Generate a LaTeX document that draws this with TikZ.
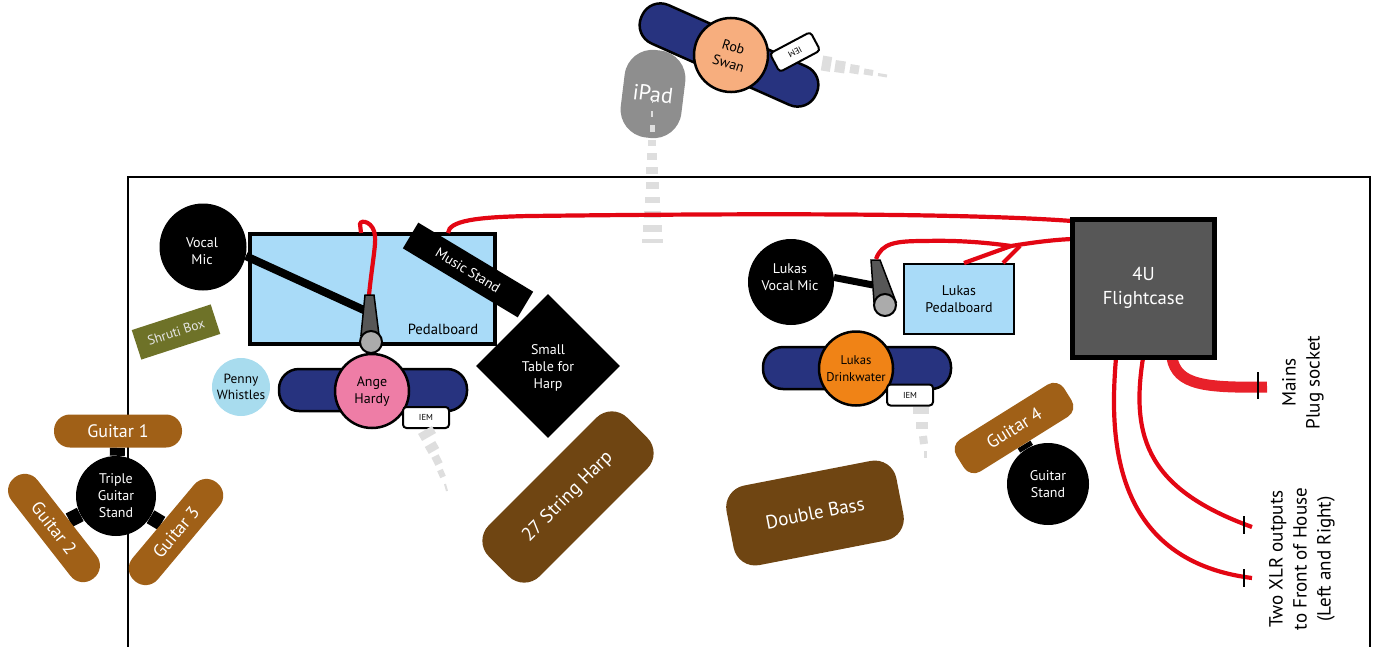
\documentclass[tikz,border=0pt]{standalone}
\usepackage{fontspec}
\setmainfont{PT Sans}
\usetikzlibrary{shapes.geometric, backgrounds}
\definecolor{PedalBlue}{HTML}{A9DBF8}
\definecolor{WhistleBlue}{HTML}{A8DCEE}
\definecolor{BodyBlue}{HTML}{27337F}
\definecolor{CableRed}{HTML}{E30613}
\definecolor{MainsRed}{HTML}{E8212A}
\definecolor{GuitarBrown}{HTML}{A06017}
\definecolor{WoodBrown}{HTML}{6F4512}
\definecolor{ShrutiGreen}{HTML}{6E7228}
\definecolor{CaseGrey}{HTML}{575757}
\definecolor{TabletGrey}{HTML}{8E8E8E}
\definecolor{BeamGrey}{HTML}{DEDEDE}
\definecolor{RobSkin}{HTML}{F7AE7E}
\definecolor{AngeSkin}{HTML}{EE7DA6}
\definecolor{LukasSkin}{HTML}{F08316}
\def\px{0.75pt}

\begin{document}
\begin{tikzpicture}[
            x=0.75pt, y=-0.75pt,
            label10/.style={font=\fontsize{10.5}{12.8}\selectfont, align=center, inner sep=0pt},
            spot/.style={circle, fill=black, text=white, inner sep=0pt, label10},
            person/.style={circle, draw=black, line width=2.5*\px, minimum size=74*\px, inner sep=0pt, text=black, label10},
            body/.style={draw=black, fill=BodyBlue, line width=2.5*\px, minimum width=188*\px, minimum height=42*\px, rounded corners=20*\px, inner sep=0pt},
            iem/.style={draw=black, fill=white, line width=2*\px, minimum width=46*\px, minimum height=21*\px, rounded corners=3.5*\px, inner sep=0pt, font=\fontsize{6.5}{7}\selectfont},
            guitar/.style={fill=GuitarBrown, text=white, minimum width=128*\px, minimum height=33*\px, rounded corners=16*\px, inner sep=0pt, font=\fontsize{13.5}{15}\selectfont},
            wood/.style={fill=WoodBrown, text=white, rounded corners=22*\px, inner sep=0pt, font=\fontsize{14.3}{16}\selectfont},
            stem/.style={line width=15*\px, black},
            cable/.style={line width=4.2*\px, CableRed},
            micbody/.style={draw=black, fill=CaseGrey, line width=1.5*\px},
            micball/.style={circle, draw=black, fill=black!33, line width=2*\px, minimum size=22*\px, inner sep=0pt},
            beam/.style={BeamGrey},
            tick/.style={line width=1.6*\px, black},
            sidetext/.style={rotate=90, align=center, inner sep=0pt, font=\fontsize{14.3}{18}\selectfont}
        ]
            \useasboundingbox (0,0) rectangle (1374,646);

            % Stage outline
            \begin{scope}[on background layer]
                \draw[line width=2*\px] (128,650) -- (128,177) -- (1370,177) -- (1370,650);
            \end{scope}

            % Rob and his iPad
            \node[fill=TabletGrey, text=white, minimum width=61*\px, minimum height=88*\px, rounded corners=28*\px, rotate=-7, inner sep=0pt, font=\fontsize{16.5}{18}\selectfont] (ipad) at (653,94) {iPad};
            \foreach \ya/\yb/\w in {100/103/1, 111/117/2.5, 125/132/5, 140/146/8, 153/160/10, 167/174/12, 182/189/13, 197/203/15, 211/218/17, 225/232/19, 239/243/21}
                \draw[beam, line width=\w*\px] (652,\ya) -- (652,\yb);
            \node[body, rotate=-24, minimum width=191*\px] (robbody) at (729,55) {};
            \node[person, fill=RobSkin, rotate=-17] (rob) at (731,55) {Rob\\Swan};
            \node[iem, rotate=-152] (robiem) at (795,52) {IEM};
            \foreach \xa/\ya/\xb/\yb/\w in {822/63/831/64.5/15, 835/66/845/67.5/12, 850/68.5/859/70/9, 864/71.5/873/73/6, 878/74.5/887/76/3}
                \draw[beam, line width=\w*\px] (\xa,\ya) -- (\xb,\yb);

            % Pedalboard and what stands on it
            \node[draw=black, fill=PedalBlue, line width=4.5*\px, minimum width=245*\px, minimum height=110*\px, inner sep=0pt] (pedalboard) at (372.5,289) {};
            \node[font=\fontsize{11}{12}\selectfont, inner sep=0pt] (pedallabel) at (443,329) {Pedalboard};
            \node[spot, minimum size=87*\px] (vocalmic) at (203,247) {};
            \node[label10, text=white] (vocallabel) at (202,251) {Vocal\\Mic};
            \coordinate (angemic) at (366,311);
            \draw[line width=8*\px] (vocalmic.-12) -- (angemic);
            \node[fill=black, text=white, minimum width=134*\px, minimum height=30*\px, rotate=-31, inner sep=0pt, label10] (musicstand) at (468,270) {Music Stand};

            % Ange
            \coordinate (angetop) at (369,295);
            \coordinate (angeloop) at (361,233);
            \draw[cable] (angetop) .. controls (372,265) and (376,245) .. (375,236) .. controls (374,222) and (361,219) .. (360,224) -- (angeloop);
            \draw[micbody] (365,295) -- (374,295) -- (379,335) -- (361,335) -- cycle;
            \node[micball] (angeball) at (371,342) {};
            \node[body] (angebody) at (373,390) {};
            \node[person, fill=AngeSkin] (ange) at (372,391) {Ange\\Hardy};
            \node[iem] (angeiem) at (426,417.5) {IEM};
            \foreach \xa/\ya/\xb/\yb/\w in {425/430/429/437/16, 430/444/434/451/12, 435/456/439/464/8, 440/470/443/477/6, 445/484/447/491/2}
                \draw[beam, line width=\w*\px] (\xa,\ya) -- (\xb,\yb);
            \node[circle, fill=WhistleBlue, minimum size=58*\px, inner sep=0pt, font=\fontsize{10}{11.8}\selectfont, align=center] (whistles) at (241,387) {Penny\\Whistles};
            \node[fill=ShrutiGreen, text=black!10, minimum width=83*\px, minimum height=31*\px, rotate=18, inner sep=0pt, font=\fontsize{10}{11}\selectfont] (shruti) at (176,332) {Shruti Box};

            % Harp things
            \node[diamond, aspect=1, fill=black, minimum width=144*\px, minimum height=144*\px, inner sep=0pt] (table) at (548,366) {};
            \node[label10, text=white] (tablelabel) at (548,368) {Small\\Table for\\Harp};
            \node[wood, rotate=45, minimum width=196*\px, minimum height=72*\px] (harp) at (568,497) {27 String Harp};
            \node[wood, rotate=11, minimum width=173*\px, minimum height=81*\px] (bass) at (815,513) {Double Bass};

            % Triple guitar stand
            \node[spot, minimum size=80*\px] (triple) at (116,496) {Triple\\Guitar\\Stand};
            \node[guitar] (guitarA) at (118,431) {Guitar 1};
            \node[guitar, rotate=-52] (guitarB) at (54,528) {Guitar 2};
            \node[guitar, rotate=50] (guitarC) at (176,532) {Guitar 3};
            \begin{scope}[on background layer]
                \draw[stem] (triple) -- (guitarA);
                \draw[stem] (triple) -- (guitarB);
                \draw[stem] (triple) -- (guitarC);
            \end{scope}

            % Lukas
            \node[draw=black, fill=PedalBlue, line width=2.5*\px, minimum width=110*\px, minimum height=70*\px, inner sep=0pt, font=\fontsize{10.5}{12.8}\selectfont, align=center] (lukasboard) at (959,299) {Lukas\\Pedalboard};
            \node[spot, minimum size=86*\px] (lukasmic) at (791,282) {};
            \node[label10, text=white] (lukaslabel) at (790,277) {Lukas\\Vocal Mic};
            \coordinate (lukasgrip) at (873,285);
            \draw[line width=7*\px] (lukasmic.6) -- (lukasgrip);
            \draw[micbody] (871,260) -- (880,260) -- (896,302) -- (874,302) -- cycle;
            \node[micball] (lukasball) at (885,305) {};
            \node[body] (lukasbody) at (857,368) {};
            \node[person, fill=LukasSkin, font=\fontsize{9.5}{12.8}\selectfont] (lukas) at (856,368.5) {Lukas\\Drinkwater};
            \node[iem] (lukasiem) at (910,395) {IEM};
            \foreach \xa/\ya/\xb/\yb/\w in {921/407/921/414/16, 922/422/922/429/12, 923/436/924/444/8, 925/451/925/458/3}
                \draw[beam, line width=\w*\px] (\xa,\ya) -- (\xb,\yb);

            % Guitar 4
            \node[spot, minimum size=82*\px] (stand) at (1048,484) {Guitar\\Stand};
            \node[guitar, rotate=32, minimum width=127*\px, minimum height=38*\px, rounded corners=12*\px] (guitarD) at (1014,428) {Guitar 4};
            \begin{scope}[on background layer]
                \draw[stem] (stand) -- (guitarD);
            \end{scope}

            % Cables
            \coordinate (caseA) at (1072,221);
            \coordinate (caseB) at (1072,239);
            \coordinate (caseC) at (1116,358);
            \coordinate (caseD) at (1143,358);
            \coordinate (caseE) at (1172,358);
            \coordinate (standport) at (448,233);
            \coordinate (lukastop) at (876,259);
            \coordinate (boardA) at (964,263);
            \coordinate (boardB) at (1003,263);
            \coordinate (joinA) at (1011,246);
            \coordinate (joinB) at (1020,246);
            \coordinate (xlrA) at (1252,578);
            \coordinate (xlrB) at (1252,527);
            \coordinate (mains) at (1267,387);
            \draw[cable] (standport) .. controls (449,221) and (475,217) .. (530,216) .. controls (700,214) and (950,212) .. (caseA);
            \draw[cable] (lukastop) .. controls (882,243) and (895,241) .. (925,241) .. controls (960,240) and (990,243) .. (joinA) .. controls (1030,243) and (1050,240) .. (caseB);
            \draw[cable] (boardA) -- (joinA);
            \draw[cable] (boardB) -- (joinB);
            \draw[cable] (caseC) .. controls (1110,430) and (1108,560) .. (xlrA);
            \draw[cable] (caseD) .. controls (1130,440) and (1150,490) .. (xlrB);
            \draw[line width=11*\px, MainsRed] (caseE) .. controls (1177,385) and (1205,388) .. (mains);
            \draw[tick] (1244,569) -- (1244,587);
            \draw[tick] (1244,516) -- (1244,534);
            \draw[tick] (1258,372) -- (1258,399);

            % Flightcase goes over the cable ends
            \node[draw=black, fill=CaseGrey, text=white, line width=5*\px, minimum width=142*\px, minimum height=138*\px, inner sep=0pt, align=center, font=\fontsize{14}{18}\selectfont] (flightcase) at (1143.5,288) {4U\\Flightcase};

            % Side notes
            \node[sidetext] (mainstext) at (1303,382.5) {Mains\\Plug socket};
            \node[sidetext] (xlrtext) at (1302,559) {Two XLR outputs\\to Front of House\\(Left and Right)};
        \end{tikzpicture}
\end{document}
